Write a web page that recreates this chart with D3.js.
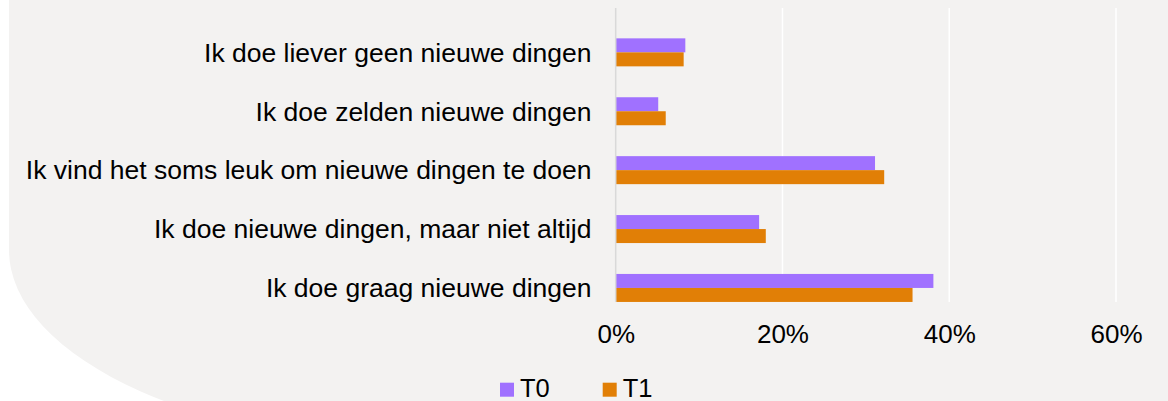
<!DOCTYPE html>
<html>
<head>
<meta charset="utf-8">
<script src="https://cdn.jsdelivr.net/npm/d3@7"></script>
<style>
  html, body { margin: 0; padding: 0; background: #ffffff; }
  svg { display: block; }
  text { font-family: "Liberation Sans", Arial, sans-serif; fill: #000; }
</style>
</head>
<body>
<svg id="chart" width="1168" height="401"></svg>
<script>
// ---- data ----
const categories = [
  "Ik doe liever geen nieuwe dingen",
  "Ik doe zelden nieuwe dingen",
  "Ik vind het soms leuk om nieuwe dingen te doen",
  "Ik doe nieuwe dingen, maar niet altijd",
  "Ik doe graag nieuwe dingen"
];
const seriesNames = ["T0", "T1"];
const t0Values = [8.35, 5.1, 31.1, 17.2, 38.1];
const t1Values = [8.15, 6.0, 32.2, 18.0, 35.6];
const tickValues = [0, 20, 40, 60];

// ---- layout ----
const W = 1168, H = 401;
const svg = d3.select("#chart");
const colors = { T0: "#a071ff", T1: "#e17f06" };

// background shape with rounded bottom-left corner
svg.append("path")
  .attr("d", "M1168,0 H9 V250 A450,200 0 0 0 459,450 H1168 Z")
  .attr("fill", "#f3f2f1");

const plotTop = 8, plotBottom = 302;
const x = d3.scaleLinear().domain([0, 60]).range([615.7, 1116]);
const y = d3.scaleBand().domain(categories).range([22.9, 317.4]).padding(0);
const barH = y.bandwidth() * 0.2377;

// gridlines
const grid = svg.append("g");
grid.selectAll("line.grid")
  .data(tickValues.filter(d => d !== 0))
  .join("line")
  .attr("x1", d => x(d)).attr("x2", d => x(d))
  .attr("y1", plotTop).attr("y2", plotBottom)
  .attr("stroke", "#ffffff").attr("stroke-width", 1.5);

// bars
const rows = categories.map((c, i) => ({ cat: c, T0: t0Values[i], T1: t1Values[i] }));
const g = svg.append("g");
seriesNames.forEach((s, si) => {
  g.selectAll("rect." + s)
    .data(rows)
    .join("rect")
    .attr("class", s)
    .attr("x", x(0))
    .attr("y", d => y(d.cat) + y.bandwidth() / 2 - barH + si * barH)
    .attr("width", d => x(d[s]) - x(0))
    .attr("height", barH)
    .attr("fill", colors[s]);
});

// zero line
svg.append("line")
  .attr("x1", x(0)).attr("x2", x(0))
  .attr("y1", plotTop).attr("y2", plotBottom)
  .attr("stroke", "#d9d9d9").attr("stroke-width", 1.5);

// x axis labels
const xAxis = d3.axisBottom(x).tickValues(tickValues).tickFormat(d => d + "%").tickSize(0);
const xg = svg.append("g").attr("transform", `translate(0,${plotBottom})`).call(xAxis);
xg.select(".domain").remove();
xg.selectAll("text")
  .attr("y", 41).attr("dy", 0)
  .style("font-size", "26px")
  .style("font-family", '"Liberation Sans", Arial, sans-serif')
  .attr("fill", "#000");

// y axis labels
const yAxis = d3.axisLeft(y).tickSize(0);
const yg = svg.append("g").attr("transform", `translate(591.5,0)`).call(yAxis);
yg.select(".domain").remove();
yg.selectAll("text")
  .attr("x", 0).attr("dy", "0.35em")
  .style("font-size", "26.5px")
  .style("font-family", '"Liberation Sans", Arial, sans-serif')
  .attr("fill", "#000");

// legend
const legendX = [500, 602.7];
const lg = svg.append("g");
seriesNames.forEach((s, i) => {
  lg.append("rect")
    .attr("x", legendX[i]).attr("y", 382.7)
    .attr("width", 14).attr("height", 14)
    .attr("fill", colors[s]);
  lg.append("text")
    .attr("x", legendX[i] + 20).attr("y", 397)
    .style("font-size", "25.5px")
    .text(s);
});
</script>
</body>
</html>
